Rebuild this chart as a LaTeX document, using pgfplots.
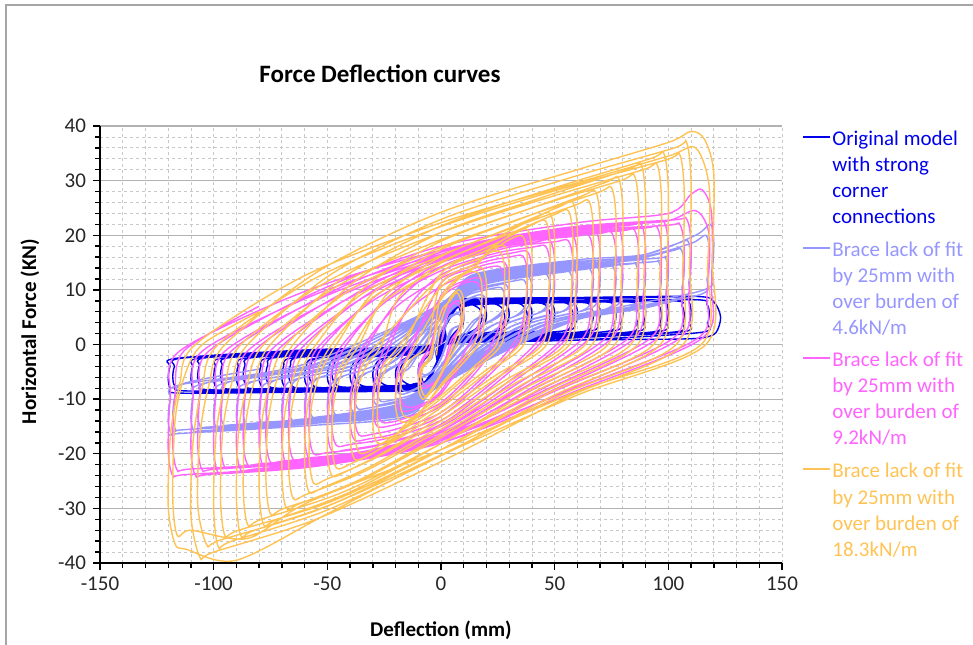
\documentclass[border=0pt]{standalone}
\usepackage{fontspec}
\setmainfont{Carlito}
\usepackage{pgfplots}
\pgfplotsset{compat=1.18}
\definecolor{cOrig}{RGB}{0,0,235}
\definecolor{cLB}{RGB}{150,150,255}
\definecolor{cMag}{RGB}{255,100,255}
\definecolor{cOr}{RGB}{255,195,85}
\definecolor{gridc}{RGB}{200,200,200}
\begin{document}
\begin{tikzpicture}
\useasboundingbox (-50bp,-41bp) rectangle (436.5bp,281.5bp);
\draw[gray!70, line width=0.6bp] (-47bp,-41bp) -- (-47bp,279bp) -- (436.5bp,279bp);
\begin{axis}[
 at={(0,0)}, anchor=south west, scale only axis, width=341bp, height=218.5bp,
 xmin=-150, xmax=150, ymin=-40, ymax=40,
 axis x line*=bottom, axis y line*=left,
 axis line style={line width=0.8bp, black},
 xtick={-150,-100,...,150}, ytick={-40,-30,...,40},
 minor x tick num=4, minor y tick num=4,
 tick align=outside, major tick length=3.5bp, minor tick length=2.5bp,
 tick style={black, line width=0.7bp},
 grid=both,
 major x grid style={gridc, dash pattern=on 1.5bp off 1.5bp, line width=0.4bp},
 minor x grid style={gridc, dash pattern=on 1.5bp off 1.5bp, line width=0.4bp},
 major y grid style={black!30, line width=0.6bp},
 minor y grid style={gridc, dash pattern=on 1.5bp off 1.5bp, line width=0.4bp},
 ticklabel style={font=\fontsize{10.5bp}{12bp}\selectfont, text=black!85},
 /pgf/number format/assume math mode=true,
 xlabel={Deflection (mm)}, ylabel={Horizontal Force (KN)},
 label style={font=\fontsize{10.5bp}{12bp}\selectfont\bfseries},
 xlabel style={at={(axis description cs:0.5,-0.1693)}, anchor=base},
 ylabel style={at={(axis description cs:-0.1026,0.53)}, anchor=center, rotate=0},
 every axis plot/.append style={smooth, tension=0.5, line width=0.7bp, mark=none},
]
% Original model with strong corner connections
\addplot[cOrig, line width=0.7bp] coordinates {
(-3,-0.5) (2,3.5) (5,7) (8,7.6) (9.5,6.4) (10,5)
(9.5,3.5) (7,2.4) (3,0.5) (-2,-3.5) (-5,-7) (-8,-7.6) (-9.5,-6.4) (-10,-5)
(-9.5,-3.6) (-7,-2.4) (-3,-0.5) (2,3.3) (5,6.7) (7.5,7.2) (8.5,6) (9,4.7)
(8.5,3.3) (6,2.2) (3,0.5) (-2,-3.3) (-5,-6.7) (-7.5,-7.2) (-8.5,-6) (-9,-4.7)
(-8.4,-3.3) (-6,-2.2) (-3,-0.5) (2,3.5) (7,7) (12,7.4) (15,7.8) (19,6.9) (20,5.3)
(19.2,4) (16,2.6) (3,0.5) (-2,-3.5) (-7,-7.1) (-12,-7.5) (-15,-7.9) (-19,-7) (-20,-5.4)
(-19.2,-4) (-16,-2.6) (-3,-0.5) (2,3.4) (7,6.7) (11,7) (13,7.4) (17,6.5) (18,4.9)
(17.2,3.8) (14,2.5) (3,0.5) (-2,-3.4) (-7,-6.8) (-11,-7.1) (-13,-7.5) (-17,-6.6) (-18,-5)
(-17.2,-3.8) (-14,-2.5) (-3,-0.5) (2,3.5) (7,7.2) (12,7.6) (15,7.85) (25,8) (29,7.1) (30,5.5)
(29.2,4) (26,2.6) (15,1.8) (3,0.5) (-2,-3.5) (-7,-7.3) (-12,-7.7) (-15,-7.95) (-25,-8.1) (-29,-7.2) (-30,-5.6)
(-29.2,-4) (-26,-2.6) (-14,-1.8) (-3,-0.5) (2,3.4) (7,6.8) (12,7.1) (14,7.35) (23,7.5) (27,6.6) (28,5)
(27.2,3.8) (24,2.5) (14,1.7) (3,0.5) (-2,-3.4) (-7,-6.8) (-12,-7.2) (-14,-7.45) (-23,-7.6) (-27,-6.7) (-28,-5.1)
(-27.2,-3.8) (-24,-2.5) (-14,-1.7) (-3,-0.5) (2,3.5) (7,7.3) (12,7.7) (20,7.9) (35,8.1) (39,7.2) (40,5.6)
(39.2,4) (36,2.6) (20,1.8) (3,0.5) (-2,-3.5) (-7,-7.4) (-12,-7.8) (-20,-8) (-35,-8.2) (-39,-7.3) (-40,-5.7)
(-39.2,-4) (-36,-2.6) (-20,-1.8) (-3,-0.5) (2,3.4) (7,6.8) (12,7.2) (19,7.45) (33,7.6) (37,6.7) (38,5.1)
(37.2,3.8) (34,2.5) (19,1.7) (3,0.5) (-2,-3.4) (-7,-6.9) (-12,-7.3) (-19,-7.55) (-33,-7.7) (-37,-6.8) (-38,-5.2)
(-37.2,-3.8) (-34,-2.5) (-19,-1.7) (-3,-0.5) (2,3.5) (7,7.4) (12,7.8) (25,8) (45,8.2) (49,7.3) (50,5.7)
(49.2,4) (46,2.6) (25,1.8) (3,0.5) (-2,-3.5) (-7,-7.5) (-12,-7.9) (-25,-8.1) (-45,-8.3) (-49,-7.4) (-50,-5.8)
(-49.2,-4) (-46,-2.6) (-25,-1.8) (-3,-0.5) (2,3.4) (7,6.8) (12,7.2) (24,7.45) (43,7.6) (47,6.7) (48,5.1)
(47.2,3.8) (44,2.5) (24,1.7) (3,0.5) (-2,-3.4) (-7,-7) (-12,-7.4) (-24,-7.6) (-43,-7.8) (-47,-6.9) (-48,-5.3)
(-47.2,-3.8) (-44,-2.5) (-24,-1.7) (-3,-0.5) (2,3.5) (7,7.5) (12,7.9) (30,8.1) (55,8.3) (59,7.4) (60,5.8)
(59.2,4) (56,2.6) (30,1.7) (3,0.4) (-2,-3.5) (-7,-7.6) (-12,-8) (-30,-8.2) (-55,-8.4) (-59,-7.5) (-60,-5.9)
(-59.2,-4) (-56,-2.6) (-30,-1.7) (-3,-0.4) (2,3.4) (7,6.9) (12,7.3) (29,7.55) (53,7.7) (57,6.8) (58,5.2)
(57.2,3.8) (54,2.5) (29,1.6) (3,0.4) (-2,-3.4) (-7,-7.1) (-12,-7.5) (-29,-7.7) (-53,-7.9) (-57,-7) (-58,-5.4)
(-57.2,-3.8) (-54,-2.5) (-29,-1.6) (-3,-0.4) (2,3.5) (7,7.5) (12,7.9) (35,8.15) (65,8.3) (69,7.4) (70,5.8)
(69.2,4) (66,2.5) (35,1.6) (3,0.4) (-2,-3.5) (-7,-7.6) (-12,-8.1) (-35,-8.3) (-65,-8.5) (-69,-7.6) (-70,-6)
(-69.2,-4) (-66,-2.5) (-35,-1.6) (-3,-0.4) (2,3.4) (7,6.9) (12,7.3) (33,7.55) (62,7.7) (66,6.8) (67,5.2)
(66.2,3.8) (63,2.4) (33,1.5) (3,0.4) (-2,-3.4) (-7,-7.2) (-12,-7.6) (-33,-7.8) (-62,-8) (-66,-7.1) (-67,-5.5)
(-66.2,-3.8) (-63,-2.4) (-33,-1.5) (-3,-0.4) (2,3.5) (7,7.6) (12,8) (40,8.2) (75,8.4) (79,7.5) (80,5.9)
(79.2,4) (76,2.5) (40,1.5) (3,0.3) (-2,-3.5) (-7,-7.6) (-12,-8.1) (-40,-8.3) (-75,-8.5) (-79,-7.6) (-80,-6)
(-79.2,-4) (-76,-2.5) (-40,-1.5) (-3,-0.3) (2,3.4) (7,7) (12,7.4) (38,7.6) (72,7.8) (76,6.9) (77,5.3)
(76.2,3.8) (73,2.4) (38,1.4) (3,0.3) (-2,-3.4) (-7,-7.2) (-12,-7.6) (-38,-7.8) (-72,-8) (-76,-7.1) (-77,-5.5)
(-76.2,-3.8) (-73,-2.4) (-38,-1.4) (-3,-0.3) (2,3.5) (7,7.6) (12,8.1) (45,8.3) (85,8.5) (89,7.6) (90,6)
(89.2,4) (86,2.4) (45,1.4) (3,0.3) (-2,-3.5) (-7,-7.7) (-12,-8.2) (-45,-8.4) (-85,-8.6) (-89,-7.7) (-90,-6.1)
(-89.2,-4) (-86,-2.5) (-45,-1.4) (-3,-0.3) (2,3.4) (7,7) (12,7.4) (43,7.6) (82,7.8) (86,6.9) (87,5.3)
(86.2,3.8) (83,2.3) (43,1.3) (3,0.3) (-2,-3.4) (-7,-7.3) (-12,-7.7) (-43,-7.9) (-82,-8.1) (-86,-7.2) (-87,-5.6)
(-86.2,-3.8) (-83,-2.4) (-43,-1.3) (-3,-0.3) (2,3.5) (7,7.7) (12,8.2) (50,8.4) (95,8.6) (99,7.7) (100,6.1)
(99.2,4) (96,2.4) (50,1.3) (3,0.3) (-2,-3.5) (-7,-7.8) (-12,-8.3) (-50,-8.5) (-95,-8.7) (-99,-7.8) (-100,-6.2)
(-99.2,-4) (-96,-2.5) (-50,-1.3) (-3,-0.3) (2,3.4) (7,7.1) (12,7.5) (48,7.7) (92,7.9) (96,7) (97,5.4)
(96.2,3.8) (93,2.3) (48,1.2) (3,0.2) (-2,-3.4) (-7,-7.4) (-12,-7.8) (-48,-8) (-92,-8.2) (-96,-7.3) (-97,-5.7)
(-96.2,-3.8) (-93,-2.4) (-48,-1.2) (-3,-0.2) (2,3.5) (7,7.8) (12,8.3) (55,8.5) (105,8.7) (109,7.8) (110,6.2)
(109.2,4) (106,2.3) (55,1.2) (3,0.2) (-2,-3.5) (-7,-7.9) (-12,-8.4) (-55,-8.6) (-105,-8.8) (-109,-7.9) (-110,-6.3)
(-109.2,-4) (-106,-2.5) (-55,-1.2) (-3,-0.2) (2,3.4) (7,7.2) (12,7.6) (53,7.8) (102,8) (106,7.1) (107,5.5)
(106.2,3.8) (103,2.3) (53,1.1) (3,0.2) (-2,-3.4) (-7,-7.5) (-12,-7.9) (-53,-8.1) (-102,-8.3) (-106,-7.4) (-107,-5.8)
(-106.2,-3.8) (-103,-2.4) (-53,-1.1) (-3,-0.2) (2,3.5) (7,7.9) (12,8.4) (60,8.6) (112,8.8) (120,7.8) (123,5)
(121,2.2) (116,1.3) (105,1) (60,0.8) (3,0.1) (-2,-3.5) (-7,-8) (-12,-8.5) (-60,-8.7) (-115,-8.9) (-119,-8) (-120,-6.4)
(-119.2,-4) (-116,-2.5) (-60,-1) (-3,-0.1) (2,3.4) (7,7.4) (12,7.8) (59,8) (112,8.2) (117,7.3) (118,5.7)
(117.2,3.8) (114,2.2) (59,0.8) (3,0.1) (-2,-3.4) (-7,-7.6) (-12,-8.1) (-59,-8.3) (-112,-8.5) (-117,-7.6) (-118,-6)
(-117.2,-4) (-114,-2.5) (-60,-1.2) (-20,-0.5)
};
% Brace lack of fit, 4.6 kN/m
\addplot[cLB] coordinates {
(0,0) (3.3,4.8) (6,5.6) (8.5,6) (10,5.1)
(9,3.6) (5,2.7) (0,-2.7) (-3.3,-4.8) (-6,-5.6) (-8.5,-6) (-10,-5.1)
(-9,-3.6) (-5,-2.7) (0,2.5) (3,4.5) (5.5,5.3) (7.5,5.6) (9,4.8)
(8,3.4) (4,2.5) (0,-2.5) (-3,-4.5) (-5.5,-5.3) (-7.5,-5.6) (-9,-4.8)
(-8,-3.4) (-4,-2.5) (0,4.05) (6.7,7.2) (15,8.9) (18.5,9) (20,7.65)
(19,5.4) (15,4.05) (0,-4.05) (-6.7,-7.2) (-15,-8.9) (-18.5,-9) (-20,-7.65)
(-19,-5.4) (-15,-4.05) (0,3.8) (6,6.8) (13,8.4) (16.5,8.5) (18,7.2)
(17,5.1) (13,3.8) (0,-3.8) (-6,-6.8) (-13,-8.4) (-16.5,-8.5) (-18,-7.2)
(-17,-5.1) (-13,-3.8) (0,4.95) (10,8.8) (15,9.9) (25,10.9) (28.5,11) (30,9.35)
(29,6.6) (25,4.95) (15,2.4) (0,-4.95) (-10,-8.8) (-15,-9.9) (-25,-10.9) (-28.5,-11) (-30,-9.35)
(-29,-6.6) (-25,-4.95) (-15,-2.4) (0,4.7) (9.3,8.3) (14,9.4) (23,10.3) (26.5,10.4) (28,8.85)
(27,6.25) (23,4.7) (14,2.3) (0,-4.7) (-9.3,-8.3) (-14,-9.4) (-23,-10.3) (-26.5,-10.4) (-28,-8.85)
(-27,-6.25) (-23,-4.7) (-14,-2.3) (0,5.6) (13.3,10) (20,11.25) (35,12.4) (38.5,12.5) (40,10.6)
(39,7.5) (35,5.6) (20,2.75) (0,-5.6) (-13.3,-10) (-20,-11.25) (-35,-12.4) (-38.5,-12.5) (-40,-10.6)
(-39,-7.5) (-35,-5.6) (-20,-2.75) (0,5.3) (12.7,9.45) (19,10.6) (33,11.7) (36.5,11.8) (38,10)
(37,7.1) (33,5.3) (19,2.6) (0,-5.3) (-12.7,-9.45) (-19,-10.6) (-33,-11.7) (-36.5,-11.8) (-38,-10)
(-37,-7.1) (-33,-5.3) (-19,-2.6) (0,6.1) (15,10.8) (25,12.15) (45,13.4) (48.5,13.5) (50,11.5)
(49,8.1) (45,6.1) (25,3) (0,-6.1) (-15,-10.8) (-25,-12.15) (-45,-13.4) (-48.5,-13.5) (-50,-11.5)
(-49,-8.1) (-45,-6.1) (-25,-3) (0,5.8) (15,10.2) (24,11.5) (43,12.7) (46.5,12.8) (48,10.9)
(47,7.7) (43,5.8) (24,2.8) (0,-5.8) (-15,-10.2) (-24,-11.5) (-43,-12.7) (-46.5,-12.8) (-48,-10.9)
(-47,-7.7) (-43,-5.8) (-24,-2.8) (0,6.3) (15,11.2) (30,12.6) (55,13.9) (58.5,14) (60,11.9)
(59,8.4) (55,6.3) (30,3.1) (0,-6.3) (-15,-11.2) (-30,-12.6) (-55,-13.9) (-58.5,-14) (-60,-11.9)
(-59,-8.4) (-55,-6.3) (-30,-3.1) (0,6) (15,10.6) (29,12) (53,13.2) (56.5,13.3) (58,11.3)
(57,8) (53,6) (29,2.9) (0,-6) (-15,-10.6) (-29,-12) (-53,-13.2) (-56.5,-13.3) (-58,-11.3)
(-57,-8) (-53,-6) (-29,-2.9) (0,6.5) (15,11.6) (35,13) (65,14.4) (68.5,14.5) (70,12.3)
(69,8.7) (65,6.5) (35,3.2) (0,-6.5) (-15,-11.6) (-35,-13) (-65,-14.4) (-68.5,-14.5) (-70,-12.3)
(-69,-8.7) (-65,-6.5) (-35,-3.2) (0,6.2) (15,11) (33,12.4) (62,13.7) (65.5,13.8) (67,11.7)
(66,8.3) (62,6.2) (33,3) (0,-6.2) (-15,-11) (-33,-12.4) (-62,-13.7) (-65.5,-13.8) (-67,-11.7)
(-66,-8.3) (-62,-6.2) (-33,-3) (0,6.75) (15,12) (40,13.5) (75,14.9) (78.5,15) (80,12.75)
(79,9) (75,6.75) (40,3.3) (0,-6.75) (-15,-12) (-40,-13.5) (-75,-14.9) (-78.5,-15) (-80,-12.75)
(-79,-9) (-75,-6.75) (-40,-3.3) (0,6.4) (15,11.4) (38,12.9) (72,14.2) (75.5,14.3) (77,12.2)
(76,8.6) (72,6.4) (38,3.1) (0,-6.4) (-15,-11.4) (-38,-12.9) (-72,-14.2) (-75.5,-14.3) (-77,-12.2)
(-76,-8.6) (-72,-6.4) (-38,-3.1) (0,7) (15,12.4) (45,14) (85,15.4) (88.5,15.5) (90,13.2)
(89,9.3) (85,7) (45,3.4) (0,-7) (-15,-12.4) (-45,-14) (-85,-15.4) (-88.5,-15.5) (-90,-13.2)
(-89,-9.3) (-85,-7) (-45,-3.4) (0,6.7) (15,11.8) (43,13.3) (82,14.7) (85.5,14.8) (87,12.6)
(86,8.9) (82,6.7) (43,3.3) (0,-6.7) (-15,-11.8) (-43,-13.3) (-82,-14.7) (-85.5,-14.8) (-87,-12.6)
(-86,-8.9) (-82,-6.7) (-43,-3.3) (0,7.2) (15,12.8) (50,14.4) (95,15.8) (98.5,16) (100,13.6)
(99,9.6) (95,7.2) (50,3.5) (0,-7) (-15,-12.4) (-50,-14) (-95,-15.3) (-98.5,-15.5) (-100,-13.2)
(-99,-9.3) (-95,-7) (-50,-3.4) (0,6.9) (15,12.2) (48,13.8) (92,15.1) (95.5,15.3) (97,13)
(96,9.2) (92,6.9) (48,3.4) (0,-6.7) (-15,-11.8) (-48,-13.3) (-92,-14.7) (-95.5,-14.8) (-97,-12.6)
(-96,-8.9) (-92,-6.7) (-48,-3.3) (0,7.5) (15,12.8) (55,15) (85,16) (104,18.5) (108.5,19) (110,16.2)
(109,11.4) (105,8.5) (55,4.2) (0,-7.2) (-15,-12.8) (-55,-14.4) (-105,-15.8) (-108.5,-16) (-110,-13.6)
(-109,-9.6) (-105,-7.2) (-55,-3.5) (0,7.2) (15,12.4) (53,14.5) (83,15.5) (102,17.2) (105.5,17.5) (107,14.9)
(106,10.5) (102,7.9) (53,3.9) (0,-6.9) (-15,-12.2) (-53,-13.8) (-102,-15.1) (-105.5,-15.3) (-107,-13)
(-106,-9.2) (-102,-6.9) (-53,-3.4) (0,7.5) (15,12.9) (60,15.5) (90,16.5) (112,20) (118.5,22) (120,18.7)
(119,13.2) (115,9.9) (60,4.8) (0,-7.4) (-15,-13.2) (-60,-14.9) (-115,-16.3) (-118.5,-16.5) (-120,-14)
(-119,-9.9) (-115,-7.4) (-60,-3.6) (0,7.3) (15,12.6) (59,15) (88,16) (110,18.5) (116.5,20) (118,17)
(117,12) (113,9) (59,4.4) (0,-7.1) (-15,-12.6) (-59,-14.2) (-113,-15.6) (-116.5,-15.8) (-118,-13.4)
(-117,-9.5) (-113,-7.1) (-80,-4.5)
};
% Brace lack of fit, 9.2 kN/m
\addplot[cMag] coordinates {
(0,0) (2,4.5) (5,7.5) (8,8) (10,6.4)
(9,3.2) (5,0.4) (0,-6) (-5,-7.6) (-8,-8) (-10,-6.4)
(-9,-3.2) (-5,-0.4) (0,5.6) (4,7.2) (7,7.5) (9,6)
(8,3) (4,0.4) (0,-5.6) (-4,-7.2) (-7,-7.5) (-9,-6)
(-8,-3) (-4,-0.4) (0,9) (12,11.9) (18,12) (20,9.6)
(19,4.8) (15,0.6) (0,-9) (-12,-11.9) (-18,-12) (-20,-9.6)
(-19,-4.8) (-15,-0.6) (0,8.5) (10,11.2) (16,11.3) (18,9)
(17,4.5) (13,0.6) (0,-8.5) (-10,-11.2) (-16,-11.3) (-18,-9)
(-17,-4.5) (-13,-0.6) (0,11.25) (15,14) (22,14.85) (28,15) (30,12)
(29,6) (25,0.75) (15,-5.25) (0,-11.25) (-15,-14) (-22,-14.85) (-28,-15) (-30,-12)
(-29,-6) (-25,-0.75) (-15,6) (0,10.65) (14,13.2) (20,14.05) (26,14.2) (28,11.4)
(27,5.7) (23,0.7) (14,-5) (0,-10.65) (-14,-13.2) (-20,-14.05) (-26,-14.2) (-28,-11.4)
(-27,-5.7) (-23,-0.7) (-14,7.1) (0,12.75) (20,15.8) (32,16.8) (38,17) (40,13.6)
(39,6.8) (35,0.85) (20,-6.1) (0,-13.1) (-20,-16.3) (-32,-17.3) (-38,-17.5) (-40,-14)
(-39,-7) (-35,-0.9) (-20,6.8) (0,12.15) (19,15.1) (30,16) (36,16.2) (38,13)
(37,6.5) (33,0.8) (19,-5.8) (0,-12.45) (-19,-15.4) (-30,-16.4) (-36,-16.6) (-38,-13.3)
(-37,-6.6) (-33,-0.8) (-19,8) (0,14.25) (25,17.7) (42,18.8) (48,19) (50,15.2)
(49,7.6) (45,0.95) (25,-6.8) (0,-14.6) (-25,-18.1) (-42,-19.3) (-48,-19.5) (-50,-15.6)
(-49,-7.8) (-45,-1) (-25,7.6) (0,13.5) (24,16.7) (40,17.8) (46,18) (48,14.4)
(47,7.2) (43,0.9) (24,-6.5) (0,-13.9) (-24,-17.2) (-40,-18.3) (-46,-18.5) (-48,-14.8)
(-47,-7.4) (-43,-0.9) (-24,8.4) (0,15) (30,18.6) (52,19.8) (58,20) (60,16)
(59,8) (55,1) (30,-7.35) (0,-15.75) (-30,-19.5) (-52,-20.8) (-58,-21) (-60,-16.8)
(-59,-8.4) (-55,-1) (-30,8) (0,14.25) (29,17.7) (50,18.8) (56,19) (58,15.2)
(57,7.6) (53,0.95) (29,-7) (0,-15) (-29,-18.6) (-50,-19.8) (-56,-20) (-58,-16)
(-57,-8) (-53,-1) (-29,8.8) (0,15.75) (35,19.5) (62,20.8) (68,21) (70,16.8)
(69,8.4) (65,1.05) (35,-7.7) (0,-16.5) (-35,-20.5) (-62,-21.8) (-68,-22) (-70,-17.6)
(-69,-8.8) (-65,-1.1) (-35,8.4) (0,15) (33,18.6) (59,19.8) (65,20) (67,16)
(66,8) (62,1) (33,-7.35) (0,-15.75) (-33,-19.5) (-59,-20.8) (-65,-21) (-67,-16.8)
(-66,-8.4) (-62,-1) (-33,9) (0,16.1) (40,20) (72,21.3) (78,21.5) (80,17.2)
(79,8.6) (75,1.1) (40,-7.9) (0,-16.9) (-40,-20.9) (-72,-22.3) (-78,-22.5) (-80,-18)
(-79,-9) (-75,-1.1) (-40,8.6) (0,15.4) (38,19.1) (69,20.3) (75,20.5) (77,16.4)
(76,8.2) (72,1) (38,-7.5) (0,-16.1) (-38,-20) (-69,-21.3) (-75,-21.5) (-77,-17.2)
(-76,-8.6) (-72,-1.1) (-38,9.2) (0,16.5) (45,20.5) (82,21.8) (88,22) (90,17.6)
(89,8.8) (85,1.1) (45,-8) (0,-17.25) (-45,-21.4) (-82,-22.8) (-88,-23) (-90,-18.4)
(-89,-9.2) (-85,-1.15) (-45,8.8) (0,15.75) (43,19.5) (79,20.8) (85,21) (87,16.8)
(86,8.4) (82,1) (43,-7.7) (0,-16.5) (-43,-20.5) (-79,-21.8) (-85,-22) (-87,-17.6)
(-86,-8.8) (-82,-1.1) (-43,9.45) (0,16.9) (50,20.9) (92,22.3) (98,22.5) (100,18)
(99,9) (95,1.1) (50,-8.2) (0,-17.6) (-50,-21.9) (-92,-23.3) (-98,-23.5) (-100,-18.8)
(-99,-9.4) (-95,-1.2) (-50,9) (0,16.1) (48,20) (89,21.3) (95,21.5) (97,17.2)
(96,8.6) (92,1.1) (48,-7.9) (0,-16.9) (-48,-20.9) (-89,-22.3) (-95,-22.5) (-97,-18)
(-96,-9) (-92,-1.1) (-48,9.7) (0,17.25) (55,21.4) (102,22.8) (108,23) (110,18.4)
(109,9.2) (105,1.15) (55,-8.4) (0,-18) (-55,-22.3) (-102,-23.8) (-108,-24) (-110,-19.2)
(-109,-9.6) (-105,-1.2) (-55,9.2) (0,16.5) (53,20.5) (99,21.8) (105,22) (107,17.6)
(106,8.8) (102,1.1) (53,-8) (0,-17.25) (-53,-21.4) (-99,-22.8) (-105,-23) (-107,-18.4)
(-106,-9.2) (-102,-1.15) (-53,10) (0,18) (60,22.3) (100,24) (110,27.5) (115,28.3) (119,24)
(119,11) (115,1.2) (60,-8.4) (0,-18) (-60,-22.3) (-112,-23.8) (-118,-24) (-120,-19.2)
(-119,-9.6) (-115,-1.2) (-60,9.7) (0,17.25) (59,21.4) (98,22.5) (112,24.5) (118,20)
(117,9.2) (113,1.15) (59,-8) (0,-17.25) (-59,-21.4) (-110,-22.8) (-116,-23) (-118,-18.4)
(-117,-9.2) (-113,-1.15) (-80,7)
};
% Brace lack of fit, 18.3 kN/m
\addplot[cOr] coordinates {
(-2,-2) (0,4) (4,8.5) (8,10) (10,8)
(9.5,4) (7,0) (0,-5.5) (-4,-8.5) (-8,-10) (-10,-8)
(-9,-4.5) (-5,-2) (0,5.9) (4,8) (7,9.5) (9,7.6)
(8.5,3.8) (5.5,0) (0,-5.2) (-4,-8) (-7,-9.5) (-9,-7.6)
(-8,-4.3) (-4,-1.9) (0,8.7) (12,13.6) (18,14) (20,11.2)
(19.3,5.6) (16.5,0) (0,-7.7) (-12,-13.6) (-18,-14) (-20,-11.2)
(-19,-6.3) (-15,-2.8) (0,8.2) (10,12.8) (16,13.2) (18,10.6)
(17.3,5.3) (14.5,0) (0,-7.3) (-10,-12.8) (-16,-13.2) (-18,-10.6)
(-17,-5.9) (-13,-2.6) (-6,0) (0,11.2) (15,14.8) (22,17.5) (28,18) (30,14.4)
(29.3,7.2) (26.5,0) (15,-4.5) (0,-9.9) (-15,-14.8) (-22,-17.5) (-28,-18) (-30,-14.4)
(-29,-8.1) (-25,-3.6) (-18,0) (0,10.5) (14,13.9) (20,16.5) (26,17) (28,13.6)
(27.3,6.8) (24.5,0) (14,-4.25) (0,-9.35) (-14,-13.9) (-20,-16.5) (-26,-17) (-28,-13.6)
(-27,-7.65) (-23,-3.4) (-16,0) (0,13) (20,17.2) (32,20.4) (38,21) (40,16.8)
(39.3,8.4) (36.5,0) (20,-5.25) (0,-11.55) (-20,-17.2) (-32,-20.4) (-38,-21) (-40,-16.8)
(-39,-9.45) (-35,-4.2) (-28,0) (0,12.3) (19,16.2) (30,19.2) (36,19.8) (38,15.8)
(37.3,7.9) (34.5,0) (19,-4.95) (0,-10.9) (-19,-16.2) (-30,-19.2) (-36,-19.8) (-38,-15.8)
(-37,-8.9) (-33,-4) (-26,0) (-19,8.4) (0,14.9) (25,19.7) (42,23.3) (48,24) (50,19.2)
(49.3,9.6) (46.5,0) (25,-6) (0,-13.2) (-25,-19.7) (-42,-23.3) (-48,-24) (-50,-19.2)
(-49,-10.8) (-45,-4.8) (-38,0) (-25,7.9) (0,14) (24,18.5) (40,21.9) (46,22.6) (48,18.1)
(47.3,9) (44.5,0) (24,-5.65) (0,-12.4) (-24,-18.5) (-40,-21.9) (-46,-22.6) (-48,-18.1)
(-47,-10.2) (-43,-4.5) (-36,0) (-24,9.1) (0,16.1) (30,21.3) (52,25.2) (58,26) (60,20.8)
(59.3,10.4) (56.5,0) (30,-6.75) (0,-14.85) (-30,-22.1) (-52,-26.2) (-58,-27) (-60,-21.6)
(-59,-12.15) (-55,-5.4) (-48,0) (-30,8.6) (0,15.2) (29,20.1) (50,23.8) (56,24.5) (58,19.6)
(57.3,9.8) (54.5,0) (29,-6.35) (0,-14) (-29,-20.8) (-50,-24.6) (-56,-25.4) (-58,-20.3)
(-57,-11.4) (-53,-5.1) (-46,0) (-29,9.8) (0,17.4) (35,23) (62,27.2) (68,28) (70,22.4)
(69.3,11.2) (66.5,0) (35,-7.5) (0,-16.5) (-35,-24.6) (-62,-29.1) (-68,-30) (-70,-24)
(-69,-13.5) (-65,-6) (-58,0) (-35,9.2) (0,16.3) (33,21.6) (59,25.5) (65,26.3) (67,21)
(66.3,10.5) (63.5,0) (33,-7) (0,-15.5) (-33,-23.1) (-59,-27.4) (-65,-28.2) (-67,-22.6)
(-66,-12.7) (-62,-5.6) (-55,0) (-33,10.7) (0,18.9) (40,25) (72,29.6) (78,30.5) (80,24.4)
(79.3,12.2) (76.5,0) (40,-8.25) (0,-18.15) (-40,-27) (-72,-32) (-78,-33) (-80,-26.4)
(-79,-14.85) (-75,-6.6) (-68,0) (-40,10) (0,17.8) (38,23.5) (69,27.8) (75,28.7) (77,23)
(76.3,11.5) (73.5,0) (38,-7.75) (0,-17) (-38,-25.4) (-69,-30) (-75,-31) (-77,-24.8)
(-76,-13.95) (-72,-6.2) (-65,0) (-38,11.55) (0,20.5) (45,27) (82,32) (88,33) (90,26.4)
(89.3,13.2) (86.5,0) (45,-8.75) (0,-19.25) (-45,-28.7) (-82,-34) (-88,-35) (-90,-28)
(-89,-15.75) (-85,-7) (-78,0) (-45,10.85) (0,19.2) (43,25.4) (79,30) (85,31) (87,24.8)
(86.3,12.4) (83.5,0) (43,-8.25) (0,-18.15) (-43,-27) (-79,-32) (-85,-33) (-87,-26.4)
(-86,-14.85) (-82,-6.6) (-75,0) (-43,12.25) (0,21.7) (50,28.7) (92,34) (98,35) (100,28)
(99.3,14) (96.5,0) (50,-9.25) (0,-20.35) (-50,-30.3) (-92,-36) (-98,-37) (-100,-29.6)
(-99,-16.65) (-95,-7.4) (-88,0) (-50,11.55) (0,20.5) (48,27) (89,32) (95,33) (97,26.4)
(96.3,13.2) (93.5,0) (48,-8.75) (0,-19.25) (-48,-28.7) (-89,-34) (-95,-35) (-97,-28)
(-96,-15.75) (-92,-7) (-85,0) (-48,12.95) (0,22.9) (55,30.3) (102,35.9) (108,37) (110,29.6)
(109.3,14.8) (106.5,0) (55,-9.75) (0,-21.45) (-55,-32) (-100,-38) (-106,-39) (-110,-31.2)
(-109,-17.55) (-105,-7.8) (-98,0) (-55,12.2) (0,21.6) (53,28.5) (99,33.8) (105,34.8) (107,27.8)
(106.3,13.9) (103.5,0) (53,-9.2) (0,-20.2) (-53,-30.1) (-97,-35.8) (-103,-36.7) (-107,-29.4)
(-106,-16.5) (-102,-7.3) (-95,0) (-53,13.65) (0,24.2) (60,32) (100,37) (110,39) (116,37.5) (120,31.2)
(119.3,15.6) (116.5,0) (60,-9.25) (0,-20.35) (-50,-31) (-90,-39.5) (-112,-37.5) (-117,-36.5) (-120,-29.6)
(-119,-16.65) (-115,-7.4) (-108,0) (-60,12.6) (0,22.3) (59,29.5) (100,34.5) (112,36) (118,28.8)
(117.3,14.4) (114.5,0) (59,-8.75) (0,-19.25) (-59,-29) (-85,-35.5) (-110,-34) (-116,-35) (-118,-28)
(-117,-14) (-113,-6) (-105,0) (-80,6)
};
\end{axis}
\node[anchor=base, font=\fontsize{12.5bp}{15bp}\selectfont\bfseries] at (140bp,240bp) {Force Deflection curves};
% legend
\begin{scope}[every node/.style={anchor=base west, inner sep=0pt, font=\fontsize{10.5bp}{12bp}\selectfont}]
\draw[cOrig, line width=0.7bp] (351.5bp,213bp) -- (365bp,213bp);
\node[text=cOrig] at (366bp,208.5bp) {Original model};
\node[text=cOrig] at (366bp,195.5bp) {with strong};
\node[text=cOrig] at (366bp,182.5bp) {corner};
\node[text=cOrig] at (366bp,169.5bp) {connections};
\draw[cLB, line width=0.7bp] (351.5bp,157.5bp) -- (365bp,157.5bp);
\node[text=cLB] at (366bp,153bp) {Brace lack of fit};
\node[text=cLB] at (366bp,140bp) {by 25mm with};
\node[text=cLB] at (366bp,127bp) {over burden of};
\node[text=cLB] at (366bp,114bp) {4.6kN/m};
\draw[cMag, line width=0.7bp] (351.5bp,102.5bp) -- (365bp,102.5bp);
\node[text=cMag] at (366bp,98bp) {Brace lack of fit};
\node[text=cMag] at (366bp,85bp) {by 25mm with};
\node[text=cMag] at (366bp,72bp) {over burden of};
\node[text=cMag] at (366bp,59bp) {9.2kN/m};
\draw[cOr, line width=0.7bp] (351.5bp,47bp) -- (365bp,47bp);
\node[text=cOr] at (366bp,42.5bp) {Brace lack of fit};
\node[text=cOr] at (366bp,29.5bp) {by 25mm with};
\node[text=cOr] at (366bp,16.5bp) {over burden of};
\node[text=cOr] at (366bp,3.5bp) {18.3kN/m};
\end{scope}
\end{tikzpicture}
\end{document}
